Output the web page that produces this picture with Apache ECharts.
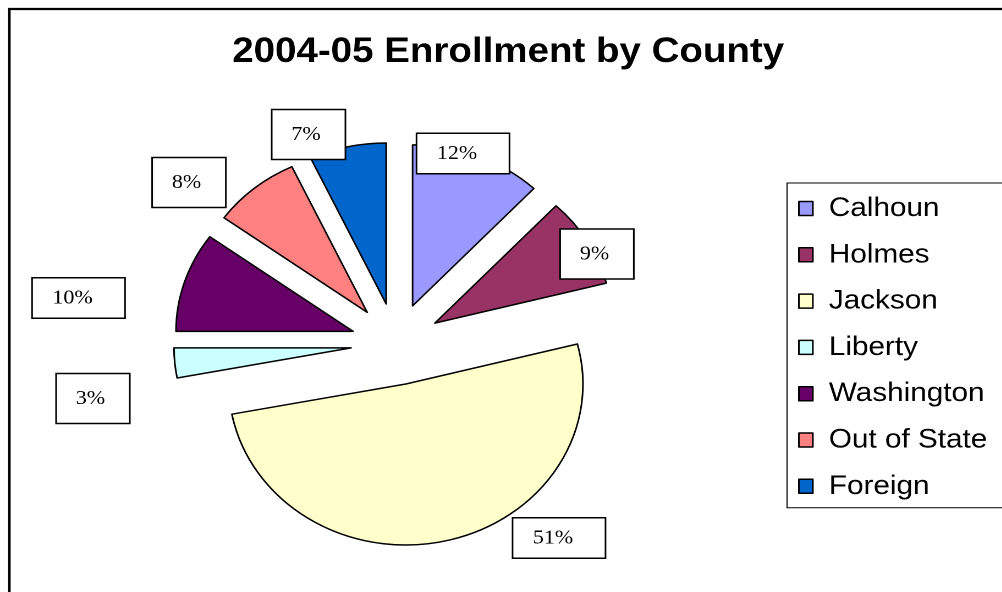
<!DOCTYPE html>
<html>
<head>
<meta charset="utf-8">
<title>2004-05 Enrollment by County</title>
<script src="https://cdn.jsdelivr.net/npm/echarts@6/dist/echarts.min.js"></script>
<style>
  html, body { margin: 0; padding: 0; background: #fff; overflow: hidden; }
  #wrap { width: 1002px; height: 592px; overflow: hidden; position: relative; }
  /* the chart is drawn at 1/1.1 width and widened horizontally */
  #chart { width: 911px; height: 592px; transform: scaleX(1.1); transform-origin: 0 0; }
</style>
</head>
<body>
<div id="wrap"><div id="chart"></div></div>
<script>
// Enrollment share by county, in percent
const counties = ['Calhoun', 'Holmes', 'Jackson', 'Liberty', 'Washington', 'Out of State', 'Foreign'];
const shares = [12, 9, 51, 3, 10, 8, 7];
const sliceColors = ['#9999FF', '#993366', '#FFFFCC', '#CCFFFF', '#660066', '#FF8080', '#0066CC'];

// where each percentage box sits (chart pixels)
const labelSpots = [
  [420.9, 153.5], [542.7, 254], [508.2, 538], [84.5, 398.5],
  [71.4, 298], [171.8, 182.5], [280.5, 134.5]
];

const boxBase = {
  fontFamily: '"Liberation Serif", "Times New Roman", serif',
  fontSize: 20,
  lineHeight: 20,
  color: '#000',
  backgroundColor: '#fff',
  borderColor: '#000',
  borderWidth: 1.5,
  align: 'center'
};
// two-digit values get a wide, short box; one-digit values a narrow, tall one
const wideBox = Object.assign({}, boxBase, { width: 72, padding: [17, 11, 2, 0] });
const tallBox = Object.assign({}, boxBase, { width: 61, padding: [14.5, 4.5, 14, 0] });

const pieCenter = [360, 344];
const pieRadius = 161;

// exploded slices
const sliceData = counties.map((name, i) => ({
  name: name,
  value: shares[i],
  selected: true,
  itemStyle: { color: sliceColors[i] }
}));

// same shares again, only to carry the boxed percentage labels
const labelData = counties.map((name, i) => ({
  name: name,
  value: shares[i],
  label: shares[i] >= 10 ? wideBox : tallBox
}));

const chart = echarts.init(document.getElementById('chart'), null, { renderer: 'canvas', devicePixelRatio: 2 });

chart.setOption({
  animation: false,
  backgroundColor: '#fff',
  title: {
    text: '2004-05 Enrollment by County',
    left: 462,
    top: 35,
    padding: 0,
    textAlign: 'center',
    textStyle: {
      fontFamily: '"Liberation Sans", Arial, sans-serif',
      fontWeight: 'bold',
      fontSize: 35,
      color: '#000'
    }
  },
  legend: {
    orient: 'vertical',
    left: 715.5,
    top: 183,
    padding: [12, 60, 8, 10],
    borderColor: '#000',
    borderWidth: 1,
    backgroundColor: '#fff',
    icon: 'rect',
    itemWidth: 12.7,
    itemHeight: 14,
    itemGap: 19.3,
    selectedMode: false,
    itemStyle: { borderColor: '#000', borderWidth: 1.5 },
    textStyle: {
      fontFamily: '"Liberation Sans", Arial, sans-serif',
      fontSize: 27,
      lineHeight: 27,
      color: '#000',
      padding: [0, 0, 0, 9.5]
    },
    data: counties
  },
  graphic: [{
    type: 'rect',
    silent: true,
    z: -10,
    shape: { x: 8.5, y: 9, width: 1200, height: 800 },
    style: { fill: 'none', stroke: '#000', lineWidth: 2.3 }
  }],
  series: [{
    name: 'slices',
    type: 'pie',
    center: pieCenter,
    radius: pieRadius,
    startAngle: 90,
    clockwise: true,
    selectedMode: 'multiple',
    selectedOffset: 41,
    itemStyle: { borderColor: '#000', borderWidth: 1.5 },
    emphasis: { disabled: true },
    label: { show: false },
    labelLine: { show: false },
    data: sliceData
  }, {
    name: 'labels',
    type: 'pie',
    center: pieCenter,
    radius: pieRadius,
    startAngle: 90,
    clockwise: true,
    silent: true,
    z: 5,
    avoidLabelOverlap: false,
    itemStyle: { color: 'transparent', borderWidth: 0 },
    emphasis: { disabled: true },
    label: {
      show: true,
      position: 'outside',
      formatter: '{c}%'
    },
    labelLine: { show: false },
    labelLayout: function (params) {
      const s = labelSpots[params.dataIndex];
      return { x: s[0], y: s[1], align: 'center', verticalAlign: 'middle' };
    },
    data: labelData
  }]
});
</script>
</body>
</html>
